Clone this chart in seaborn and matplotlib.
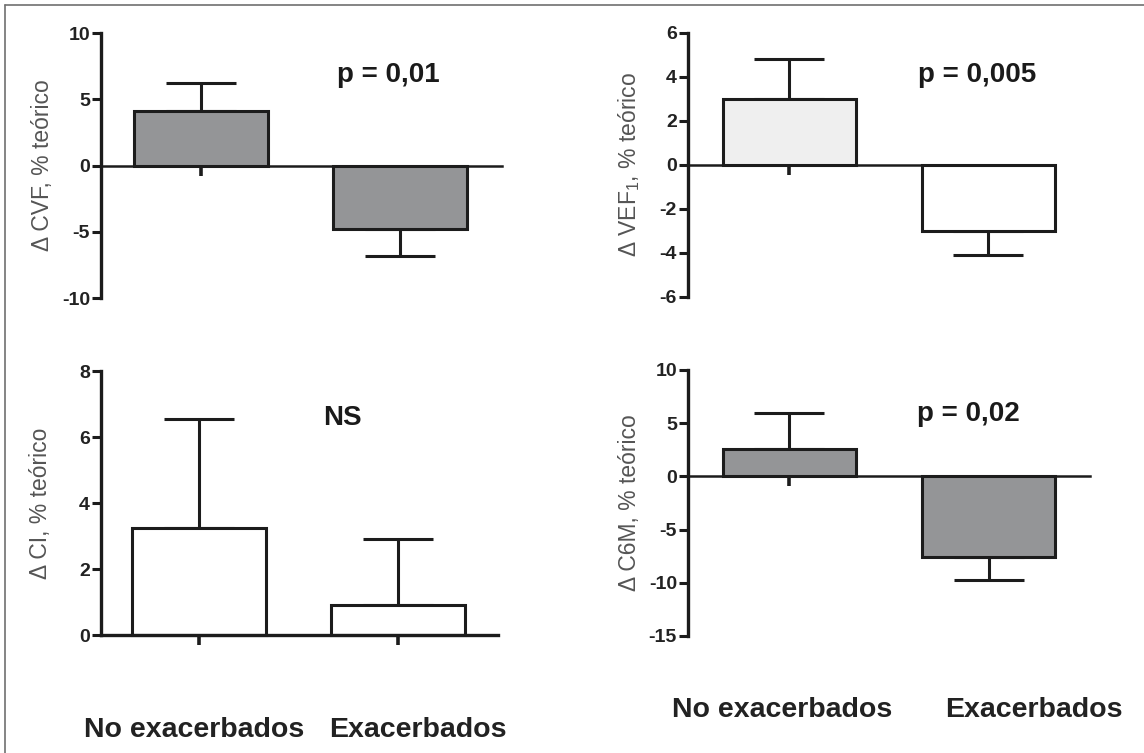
import matplotlib
matplotlib.use("Agg")
import matplotlib.pyplot as plt
import matplotlib.transforms as mtransforms
from matplotlib.lines import Line2D
import seaborn as sns
import pandas as pd

# --- datos ---
grupos = ["No exacerbados", "Exacerbados"]

cvf_media = [4.1, -4.8]
cvf_error = [2.1, 2.0]

vef1_media = [3.0, -3.0]
vef1_error = [1.8, 1.1]

ci_media = [3.25, 0.9]
ci_error = [3.3, 2.0]

c6m_media = [2.6, -7.6]
c6m_error = [3.4, 2.1]

cvf_ticks = [-10, -5, 0, 5, 10]
vef1_ticks = [-6, -4, -2, 0, 2, 4, 6]
ci_ticks = [0, 2, 4, 6, 8]
c6m_ticks = [-15, -10, -5, 0, 5, 10]

textos_p = ["p = 0,01", "p = 0,005", "NS", "p = 0,02"]
etiquetas_y = [
    "Δ CVF, % teórico",
    r"Δ VEF$_{1}$, % teórico",
    "Δ CI, % teórico",
    "Δ C6M, % teórico",
]

# --- estilo ---
sns.set_style("ticks")
plt.rcParams["font.family"] = ["Liberation Sans", "DejaVu Sans"]
plt.rcParams["mathtext.default"] = "regular"
plt.rcParams["axes.unicode_minus"] = False

BORDE = "#1c1c1c"
GRIS = "#939598"
GRIS_CLARO = "#efefef"
BLANCO = "#ffffff"

paneles = [
    dict(media=cvf_media, error=cvf_error, ticks=cvf_ticks, colores=[GRIS, GRIS],
         pos=[0.0883, 0.6042, 0.3505, 0.3519], xlim=(-0.5, 1.51), lw0=1.8,
         ylab_x=-0.118, p_xy=(0.716, 0.815)),
    dict(media=vef1_media, error=vef1_error, ticks=vef1_ticks, colores=[GRIS_CLARO, BLANCO],
         pos=[0.6014, 0.6056, 0.3208, 0.3506], xlim=(-0.51, 1.335), lw0=1.8,
         ylab_x=-0.125, p_xy=(0.787, 0.814)),
    dict(media=ci_media, error=ci_error, ticks=ci_ticks, colores=[BLANCO, BLANCO],
         pos=[0.0883, 0.1567, 0.3470, 0.3506], xlim=(-0.49, 1.50), lw0=2.4,
         ylab_x=-0.124, p_xy=(0.607, 0.795), cat_x=[-0.025, 1.10], cat_y=-0.386),
    dict(media=c6m_media, error=c6m_error, ticks=c6m_ticks, colores=[GRIS, GRIS],
         pos=[0.6014, 0.1554, 0.3514, 0.3533], xlim=(-0.51, 1.51), lw0=1.8,
         ylab_x=-0.118, p_xy=(0.697, 0.808), cat_x=[-0.035, 1.23], cat_y=-0.305),
]

fig = plt.figure(figsize=(11.44, 7.53), dpi=100)

for i, cfg in enumerate(paneles):
    ax = fig.add_axes(cfg["pos"])
    df = pd.DataFrame({"grupo": grupos, "valor": cfg["media"]})
    sns.barplot(data=df, x="grupo", y="valor", hue="grupo", palette=cfg["colores"],
                width=0.67, edgecolor=BORDE, linewidth=2.2, errorbar=None,
                legend=False, ax=ax, zorder=3, clip_on=False)

    # barras de error solo hacia afuera
    abajo = [e if m < 0 else 0 for m, e in zip(cfg["media"], cfg["error"])]
    arriba = [e if m >= 0 else 0 for m, e in zip(cfg["media"], cfg["error"])]
    ax.errorbar(range(len(grupos)), cfg["media"], yerr=[abajo, arriba], fmt="none",
                ecolor=BORDE, elinewidth=2.2, capsize=25, capthick=2.2, zorder=2)

    ax.set_ylim(cfg["ticks"][0], cfg["ticks"][-1])
    ax.set_yticks(cfg["ticks"])
    ax.set_xlim(*cfg["xlim"])
    ax.set_xlabel("")
    ax.set_ylabel(etiquetas_y[i], fontsize=16.5, color="#555555")
    ax.yaxis.set_label_coords(cfg["ylab_x"], 0.5)

    sns.despine(ax=ax)
    ax.spines["left"].set_linewidth(2.4)
    ax.spines["left"].set_color(BORDE)
    ax.spines["bottom"].set_position(("data", 0))
    ax.spines["bottom"].set_linewidth(cfg["lw0"])
    ax.spines["bottom"].set_color(BORDE)
    ax.spines["left"].set_zorder(4)
    ax.spines["bottom"].set_zorder(4)

    ax.tick_params(axis="y", direction="out", length=6.5, width=2.2, color=BORDE,
                   labelsize=14, labelcolor="#222222", pad=1.5)
    for t in ax.get_yticklabels():
        t.set_fontweight("bold")
    ax.tick_params(axis="x", direction="out", length=7, width=2.6, color=BORDE,
                   labelbottom=False)

    ax.text(*cfg["p_xy"], textos_p[i], transform=ax.transAxes, ha="center",
            va="baseline", fontsize=20, fontweight="bold", color="#1a1a1a")

    if "cat_x" in cfg:
        trans = mtransforms.blended_transform_factory(ax.transData, ax.transAxes)
        for x, g in zip(cfg["cat_x"], grupos):
            ax.text(x, cfg["cat_y"], g, transform=trans, ha="center", va="baseline",
                    fontsize=20.5, fontweight="bold", color="#222222", clip_on=False)

# marco del recorte original (izquierda y arriba)
fig.add_artist(Line2D([5 / 1144, 5 / 1144], [0, 1 - 5 / 753], transform=fig.transFigure,
                      color="#6f6f6f", lw=1.2))
fig.add_artist(Line2D([5 / 1144, 1], [1 - 5 / 753, 1 - 5 / 753], transform=fig.transFigure,
                      color="#6f6f6f", lw=1.2))

fig.savefig("out.png", dpi=100)
